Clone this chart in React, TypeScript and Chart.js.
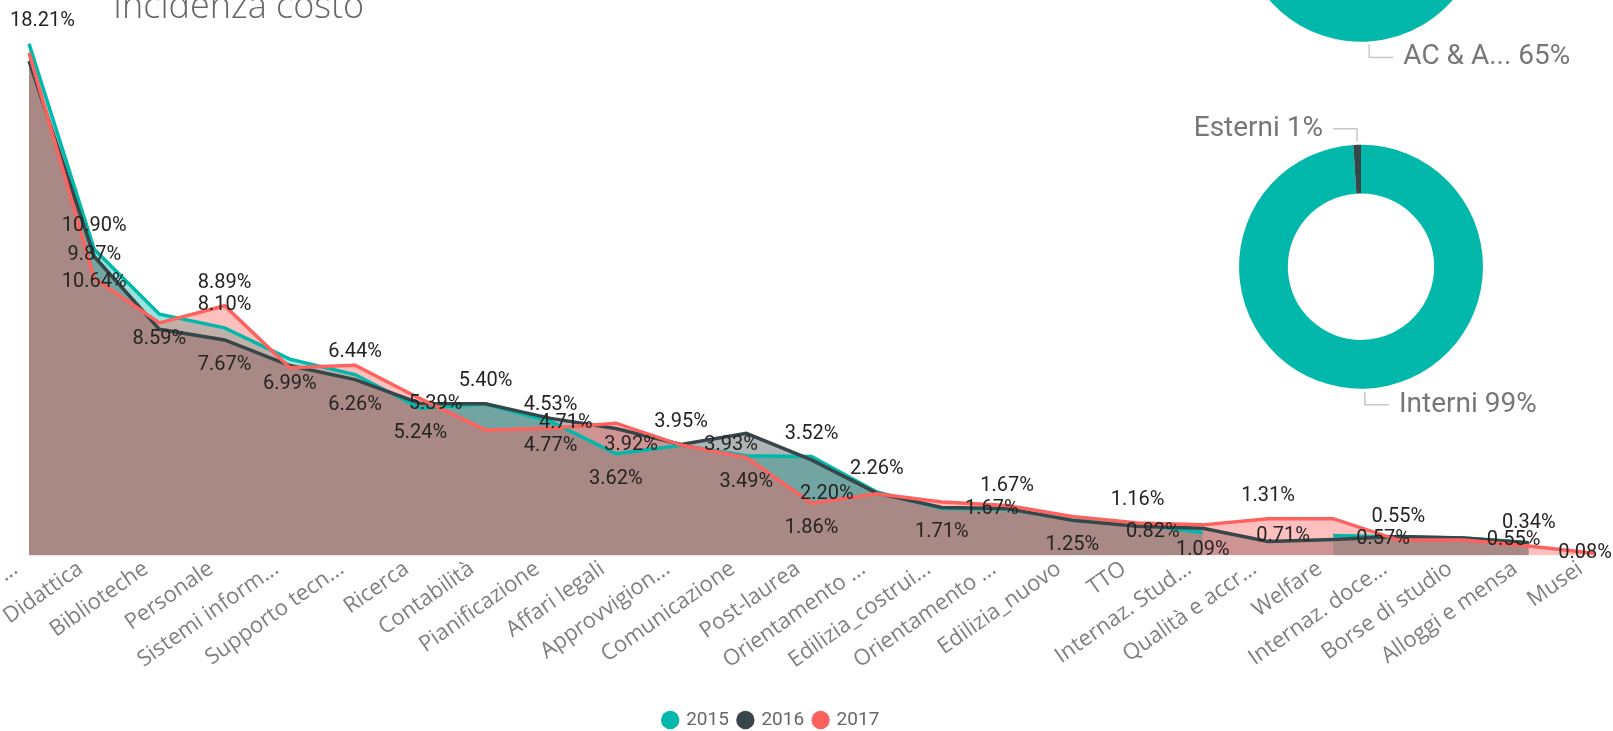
import React, { useEffect, useRef } from 'react';
import { Chart, registerables } from 'chart.js';

Chart.register(...registerables);

// ---------- data ----------
const categories = [
  '...', 'Didattica', 'Biblioteche', 'Personale', 'Sistemi inform...', 'Supporto tecn...',
  'Ricerca', 'Contabilità', 'Pianificazione', 'Affari legali', 'Approvvigion...',
  'Comunicazione', 'Post-laurea', 'Orientamento ...', 'Edilizia_costrui...', 'Orientamento ...',
  'Edilizia_nuovo', 'TTO', 'Internaz. Stud...', 'Qualità e accr...', 'Welfare',
  'Internaz. doce...', 'Borse di studio', 'Alloggi e mensa', 'Musei',
];

const seriesNames = ['2015', '2016', '2017'];

const values2015 = [18.21, 10.90, 8.59, 8.10, 6.99, 6.44, 5.24, 5.39, 4.77, 3.62, 3.92, 3.55, 3.52,
  2.26, 1.67, 1.65, 1.27, 1.12, 0.82, null, 0.71, 0.66, 0.62, 0.45, null];
const values2016 = [17.60, 10.64, 8.05, 7.67, 6.76, 6.26, 5.41, 5.40, 4.88, 4.52, 3.95, 4.35, 3.40,
  2.22, 1.71, 1.67, 1.25, 1.04, 0.97, 0.50, 0.57, 0.68, 0.62, 0.45, null];
const values2017 = [17.89, 9.87, 8.28, 8.89, 6.68, 6.77, 5.58, 4.47, 4.53, 4.71, 3.93, 3.49, 1.86,
  2.20, 1.90, 1.78, 1.39, 1.16, 1.09, 1.31, 1.31, 0.55, 0.55, 0.34, 0.08];

// which data labels are visible: [series, category index, placement]
const shownLabels: [number, number, string][] = [
  [0, 0, 'above'],
  [0, 1, 'above'], [2, 1, 'above'], [1, 1, 'below'],
  [0, 2, 'below'],
  [2, 3, 'above'], [0, 3, 'above'], [1, 3, 'below'],
  [0, 4, 'below'],
  [0, 5, 'above'], [1, 5, 'below'],
  [0, 6, 'below'],
  [1, 7, 'above'], [0, 7, 'left'],
  [2, 8, 'above'], [0, 8, 'below'],
  [2, 9, 'left'], [0, 9, 'below'],
  [1, 10, 'above'], [0, 10, 'left'], [2, 10, 'right'],
  [2, 11, 'below'],
  [0, 12, 'above'], [2, 12, 'below'],
  [0, 13, 'above'], [2, 13, 'left'],
  [1, 14, 'below'], [0, 14, 'right'],
  [1, 15, 'above'],
  [1, 16, 'below'],
  [2, 17, 'above'],
  [0, 18, 'left'], [2, 18, 'below'],
  [2, 19, 'above'],
  [0, 20, 'left'], [1, 20, 'right'],
  [2, 21, 'above'],
  [2, 22, 'right'],
  [2, 23, 'above'],
  [2, 24, 'right'],
];

const donutTopLabels = ['AC & A...', 'Altro'];
const donutTopValues = [65, 35];
const donutBottomLabels = ['Interni', 'Esterni'];
const donutBottomValues = [99, 1];

// ---------- styles ----------
const TEAL = '#01B8AA';
const DARK = '#374649';
const RED = '#FD625E';
const rgba = (hex: string, a: number) => {
  const n = parseInt(hex.slice(1), 16);
  return `rgba(${(n >> 16) & 255},${(n >> 8) & 255},${n & 255},${a})`;
};

const dataLabelPlugin = {
  id: 'dataLabelPlugin',
  afterDatasetsDraw(chart: any) {
    const ctx = chart.ctx;
    ctx.save();
    ctx.font = '20px Roboto';
    ctx.fillStyle = '#252423';
    ctx.textAlign = 'center';
    ctx.textBaseline = 'middle';
    for (const [s, i, pos] of shownLabels) {
      const el = chart.getDatasetMeta(s).data[i];
      const v = chart.data.datasets[s].data[i];
      if (v == null || !el) continue;
      let x = el.x;
      let y = el.y;
      if (pos === 'above') y -= 23;
      else if (pos === 'below') y += 25;
      else if (pos === 'left') x -= 50;
      else if (pos === 'right') x += 50;
      const text = `${Number(v).toFixed(2)}%`;
      const w = ctx.measureText(text).width;
      x = Math.max(x, 10 + w / 2);
      x = Math.min(x, chart.width - 1 - w / 2);
      ctx.fillText(text, x, y);
    }
    ctx.restore();
  },
};

// rotated category labels (drawn at the x scale's tick pixels)
const tickLabelPlugin = {
  id: 'tickLabelPlugin',
  afterDraw(chart: any) {
    const xs = chart.scales.x;
    const ctx = chart.ctx;
    const ang = (-35 * Math.PI) / 180;
    ctx.save();
    ctx.font = '22px "Open Sans"';
    ctx.fillStyle = '#7f7f7f';
    ctx.textAlign = 'right';
    ctx.textBaseline = 'alphabetic';
    xs.ticks.forEach((t: any, i: number) => {
      const x = xs.getPixelForTick(i);
      ctx.save();
      ctx.translate(x, xs.top + 13);
      ctx.rotate(ang);
      ctx.fillText(String(xs.getLabelForValue(t.value)), -10, -3);
      ctx.restore();
    });
    ctx.restore();
  },
};

// shift the legend block to where the reference puts it
const legendShiftPlugin = {
  id: 'legendShiftPlugin',
  afterLayout(chart: any) {
    if (chart.legend) {
      chart.legend.left -= 40;
      chart.legend.right -= 40;
    }
  },
};

const makeDonutLabelPlugin = (indices: number[]) => ({
  id: 'donutLabelPlugin',
  afterDraw(chart: any) {
    const ctx = chart.ctx;
    const meta = chart.getDatasetMeta(0);
    ctx.save();
    ctx.font = '28px Roboto';
    ctx.textBaseline = 'middle';
    for (const i of indices) {
      const arc = meta.data[i];
      if (!arc) continue;
      const { x, y, startAngle, endAngle, outerRadius } = arc.getProps(
        ['x', 'y', 'startAngle', 'endAngle', 'outerRadius'], true);
      const mid = (startAngle + endAngle) / 2;
      const sx = x + Math.cos(mid) * (outerRadius + 3);
      const sy = y + Math.sin(mid) * (outerRadius + 3);
      const vdir = Math.sin(mid) >= 0 ? 1 : -1;
      const hdir = Math.cos(mid) >= 0 ? 1 : -1;
      const ey = sy + vdir * 13;
      const ex = sx + hdir * 24;
      ctx.strokeStyle = '#c8c8c8';
      ctx.lineWidth = 1.5;
      ctx.beginPath();
      ctx.moveTo(sx, sy);
      ctx.lineTo(sx, ey);
      ctx.lineTo(ex, ey);
      ctx.stroke();
      ctx.fillStyle = '#777777';
      ctx.textAlign = hdir > 0 ? 'left' : 'right';
      const label = chart.data.labels[i];
      const val = chart.data.datasets[0].data[i];
      ctx.fillText(`${label} ${val}%`, ex + hdir * 10, ey);
    }
    ctx.restore();
  },
});

function AreaChart() {
  const ref = useRef<HTMLCanvasElement>(null);
  useEffect(() => {
    const mk = (idx: number, data: (number | null)[], color: string, order: number) => ({
      label: seriesNames[idx],
      data,
      borderColor: color,
      backgroundColor: rgba(color, 0.4),
      fill: 'origin',
      borderWidth: 3.5,
      pointRadius: 0,
      pointHoverRadius: 0,
      tension: 0,
      spanGaps: false,
      order,
    });
    const chart = new Chart(ref.current as HTMLCanvasElement, {
      type: 'line',
      data: {
        labels: categories,
        datasets: [
          mk(0, values2015, TEAL, 3),
          mk(1, values2016, DARK, 2),
          mk(2, values2017, RED, 1),
        ] as any,
      },
      options: {
        responsive: false,
        animation: false,
        layout: { padding: { left: 29, right: 19, top: 13.5, bottom: 0.5 } },
        scales: {
          x: {
            type: 'category',
            offset: false,
            grid: { display: false },
            border: { display: false },
            ticks: { autoSkip: false, display: false },
            afterFit: (scale: any) => {
              scale.height = 145;
              scale.paddingLeft = 0;
              scale.paddingRight = 0;
            },
          },
          y: {
            display: false,
            min: 0,
            max: 20,
          },
        },
        plugins: {
          filler: { drawTime: 'beforeDatasetsDraw' },
          tooltip: { enabled: false },
          legend: {
            position: 'bottom',
            reverse: true,
            labels: {
              usePointStyle: true,
              pointStyle: 'circle',
              boxWidth: 13,
              boxHeight: 13,
              padding: 10,
              color: '#666666',
              font: { family: 'Roboto', size: 19 },
              generateLabels: (c: any) =>
                Chart.defaults.plugins.legend.labels.generateLabels(c).map((it: any) => ({
                  ...it,
                  fillStyle: it.strokeStyle,
                  lineWidth: 0,
                })),
            },
          },
        },
      } as any,
      plugins: [dataLabelPlugin, tickLabelPlugin, legendShiftPlugin],
    });
    return () => chart.destroy();
  }, []);
  return (
    <canvas
      ref={ref}
      width={1613}
      height={760}
      style={{ position: 'absolute', left: 0, top: -20, width: 1613, height: 760 }}
    />
  );
}

function Donut(props: {
  labels: string[]; values: number[]; colors: string[]; rotation: number;
  top: number; height: number; padTop: number; padBottom: number; labelIdx: number[];
}) {
  const ref = useRef<HTMLCanvasElement>(null);
  useEffect(() => {
    const chart = new Chart(ref.current as HTMLCanvasElement, {
      type: 'doughnut',
      data: {
        labels: props.labels,
        datasets: [{ data: props.values, backgroundColor: props.colors, borderWidth: 0, hoverOffset: 0 }],
      },
      options: {
        responsive: false,
        animation: false,
        cutout: '60%',
        rotation: props.rotation,
        layout: { padding: { left: 89, right: 130, top: props.padTop, bottom: props.padBottom } },
        plugins: { legend: { display: false }, tooltip: { enabled: false } },
      } as any,
      plugins: [makeDonutLabelPlugin(props.labelIdx)],
    });
    return () => chart.destroy();
  }, []);
  return (
    <canvas
      ref={ref}
      width={463}
      height={props.height}
      style={{ position: 'absolute', left: 1150, top: props.top, width: 463, height: props.height }}
    />
  );
}

export default function App() {
  return (
    <div style={{ position: 'absolute', left: 0, top: 0, width: 1613, height: 731, overflow: 'hidden', background: '#fff' }}>
      <AreaChart />
      <div
        style={{
          position: 'absolute', left: 113, top: -13, fontFamily: 'Open Sans', fontWeight: 300,
          fontSize: 36, lineHeight: '36px', color: '#666666', whiteSpace: 'nowrap',
        }}
      >
        Incidenza costo
      </div>
      <Donut
        labels={donutTopLabels}
        values={donutTopValues}
        colors={[TEAL, DARK]}
        rotation={59.2}
        top={-250}
        height={340}
        padTop={47.7}
        padBottom={48.3}
        labelIdx={[0]}
      />
      <Donut
        labels={donutBottomLabels}
        values={donutBottomValues}
        colors={[TEAL, DARK]}
        rotation={0}
        top={0}
        height={430}
        padTop={144.7}
        padBottom={41.3}
        labelIdx={[0, 1]}
      />
    </div>
  );
}
